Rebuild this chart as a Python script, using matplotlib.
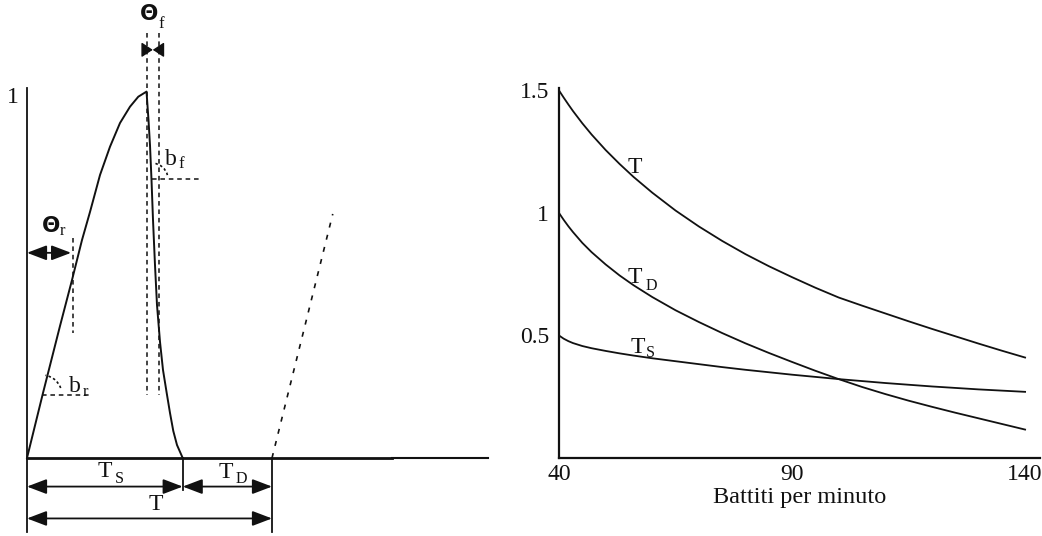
import numpy as np
import matplotlib
matplotlib.use('Agg')
import matplotlib.pyplot as plt
from matplotlib.patches import Arc

plt.rcParams['font.family'] = ['Liberation Serif', 'DejaVu Sans']

INK = '#111111'

# ---- left panel: one pulse (time in units of T, amplitude 0..1)
pulse_t = [0.0, 0.0653, 0.1347, 0.1837, 0.2245, 0.2571, 0.298, 0.3388, 0.3796,
           0.4204, 0.4543, 0.4878,
           0.4959, 0.502, 0.5082, 0.5143, 0.5224, 0.5306, 0.5429, 0.5551, 0.5702,
           0.5837, 0.5971, 0.6122, 0.6355]
pulse_a = [0.0, 0.1774, 0.3603, 0.4858, 0.595, 0.6714, 0.7724, 0.8496, 0.9143,
           0.9588, 0.9861, 1.0,
           0.9225, 0.8542, 0.7587, 0.6496, 0.5267, 0.4176, 0.3166, 0.2402, 0.1774,
           0.1228, 0.0737, 0.0355, 0.0]
t_peak = 0.4878
theta_r = 0.18
theta_f = 0.539
T_S = 0.6355
T_tot = 1.0
next_t = [1.0, 1.248]
next_a = [0.0, 0.666]

# ---- right panel: durations vs heart rate
bpm = [40, 41, 42, 43, 45, 47, 50, 53, 56, 60, 65, 70, 75, 80, 85, 90, 95,
       100, 105, 110, 115, 120, 125, 130, 135, 140]
T_vals = [1.50, 1.471, 1.443, 1.416, 1.366, 1.32, 1.257, 1.20, 1.147, 1.083, 1.01,
          0.945, 0.886, 0.832, 0.783, 0.738, 0.695, 0.655, 0.622, 0.59, 0.558,
          0.527, 0.497, 0.467, 0.438, 0.41]
TD_vals = [1.0, 0.972, 0.946, 0.922, 0.878, 0.84, 0.79, 0.745, 0.705, 0.657, 0.603,
           0.555, 0.51, 0.468, 0.429, 0.392, 0.356, 0.322, 0.29, 0.261, 0.234,
           0.209, 0.185, 0.162, 0.139, 0.116]
TS_vals = [0.50, 0.487, 0.477, 0.469, 0.457, 0.448, 0.437, 0.427, 0.418, 0.407,
           0.395, 0.383, 0.371, 0.36, 0.35, 0.34, 0.331, 0.322, 0.314, 0.306,
           0.299, 0.292, 0.286, 0.28, 0.275, 0.27]
xticks = [40, 90, 140]
yticks = [0.5, 1, 1.5]

fig = plt.figure(figsize=(10.42, 5.36), dpi=100)

ax = fig.add_axes([0, 0, 0.5, 1])
ax.set_xlim(-0.1102, 2.0163)
ax.set_ylim(-0.2129, 1.25)
ax.axis('off')

dash = (0, (3, 2.5))
ax.plot(pulse_t, pulse_a, color=INK, lw=1.4, solid_joinstyle='round')
# axes of the sketch
ax.plot([0, 0], [1.01, -0.201], color=INK, lw=1.3)
ax.plot([0, 1.49], [0, 0], color=INK, lw=2.0)
ax.plot([1.49, 1.882], [0, 0], color=INK, lw=1.5)
ax.plot([T_S, T_S], [0, -0.087], color=INK, lw=1.3)
ax.plot([T_tot, T_tot], [0, -0.201], color=INK, lw=1.3)
ax.plot(next_t, next_a, color=INK, lw=1.2, ls=(0, (3, 4.5)))

# theta_r / b_r
ax.plot([theta_r + 0.0065, theta_r + 0.0065], [0.60, 0.341], color=INK, lw=1.1, ls=dash)
ax.plot([0.061, 0.265], [0.172, 0.172], color=INK, lw=1.1, ls=dash)
ax.add_patch(Arc((0.061, 0.172), 40 / 245, 40 / 366.4, theta1=14, theta2=75,
                 color=INK, lw=1.2, ls=(0, (1.5, 1.5))))
# theta_f / b_f
ax.plot([t_peak, t_peak], [1.16, 0.172], color=INK, lw=1.1, ls=dash)
ax.plot([theta_f, theta_f], [1.16, 0.172], color=INK, lw=1.1, ls=dash)
ax.plot([0.51, 0.714], [0.761, 0.761], color=INK, lw=1.1, ls=dash)
ax.add_patch(Arc((0.51, 0.761), 32 / 245, 32 / 366.4, theta1=10, theta2=80,
                 color=INK, lw=1.2, ls=(0, (1.5, 1.5))))

big = dict(arrowstyle='<|-|>,head_length=1.0,head_width=0.38', color=INK, lw=1.3,
           shrinkA=0, shrinkB=0, mutation_scale=12)
ax.annotate('', xy=(theta_r, 0.56), xytext=(0, 0.56), arrowprops=big)
ax.annotate('', xy=(T_S, -0.078), xytext=(0, -0.078), arrowprops=big)
ax.annotate('', xy=(T_tot, -0.078), xytext=(T_S, -0.078), arrowprops=big)
ax.annotate('', xy=(T_tot, -0.165), xytext=(0, -0.165), arrowprops=big)
small = dict(arrowstyle='-|>,head_length=0.68,head_width=0.45', color=INK, lw=1.0,
             shrinkA=0, shrinkB=0, mutation_scale=10)
mid_f = (t_peak + theta_f) / 2
ax.annotate('', xy=(mid_f, 1.114), xytext=(t_peak - 0.014, 1.114), arrowprops=small)
ax.annotate('', xy=(mid_f, 1.114), xytext=(theta_f + 0.014, 1.114), arrowprops=small)

# labels of the sketch (placed on their baselines)
kw = dict(color=INK, ha='center', va='baseline')
ax.text(-0.057, 0.969, '1', fontsize=17, **kw)
ax.text(0.498, 1.195, 'Θ', fontsize=15.5, family='DejaVu Sans', weight='bold', **kw)
ax.text(0.549, 1.174, 'f', fontsize=12, **kw)
ax.text(0.10, 0.617, 'Θ', fontsize=15.5, family='DejaVu Sans', weight='bold', **kw)
ax.text(0.145, 0.609, 'r', fontsize=12, **kw)
ax.text(0.588, 0.80, 'b', fontsize=17, **kw)
ax.text(0.631, 0.791, 'f', fontsize=12, **kw)
ax.text(0.196, 0.18, 'b', fontsize=17, **kw)
ax.text(0.239, 0.169, 'r', fontsize=12, **kw)
ax.text(0.316, -0.052, 'T', fontsize=17, **kw)
ax.text(0.376, -0.068, 'S', fontsize=11.5, **kw)
ax.text(0.81, -0.055, 'T', fontsize=17, **kw)
ax.text(0.873, -0.068, 'D', fontsize=11.5, **kw)
ax.text(0.527, -0.142, 'T', fontsize=17, **kw)

# ---- right panel
ax2 = fig.add_axes([559 / 1042, 1 - 458 / 536, (1040 - 559) / 1042, (458 - 88) / 536])
ax2.plot(bpm, T_vals, color=INK, lw=1.3)
ax2.plot(bpm, TD_vals, color=INK, lw=1.3)
ax2.plot(bpm, TS_vals, color=INK, lw=1.3)
ax2.set_xlim(40, 143.2)
ax2.set_ylim(0, 1.51)
for s in ['top', 'right']:
    ax2.spines[s].set_visible(False)
for s in ['left', 'bottom']:
    ax2.spines[s].set_linewidth(1.6)
    ax2.spines[s].set_color(INK)
ax2.set_xticks(xticks)
ax2.set_xticklabels([str(v) for v in xticks])
ax2.set_yticks(yticks)
ax2.set_yticklabels(['0.5', '1', '1.5'])
ax2.tick_params(length=0, labelsize=17, colors=INK)
ax2.tick_params(axis='x', pad=4)
ax2.tick_params(axis='y', pad=7)
ax2.set_xlabel('Battiti per minuto', fontsize=17.5, color=INK, labelpad=2)
ax2.text(56.3, 1.163, 'T', fontsize=17, **kw)
ax2.text(56.3, 0.714, 'T', fontsize=17, **kw)
ax2.text(59.9, 0.686, 'D', fontsize=11.5, **kw)
ax2.text(56.9, 0.429, 'T', fontsize=17, **kw)
ax2.text(59.5, 0.412, 'S', fontsize=11.5, **kw)

fig.savefig('out.png', dpi=100)
